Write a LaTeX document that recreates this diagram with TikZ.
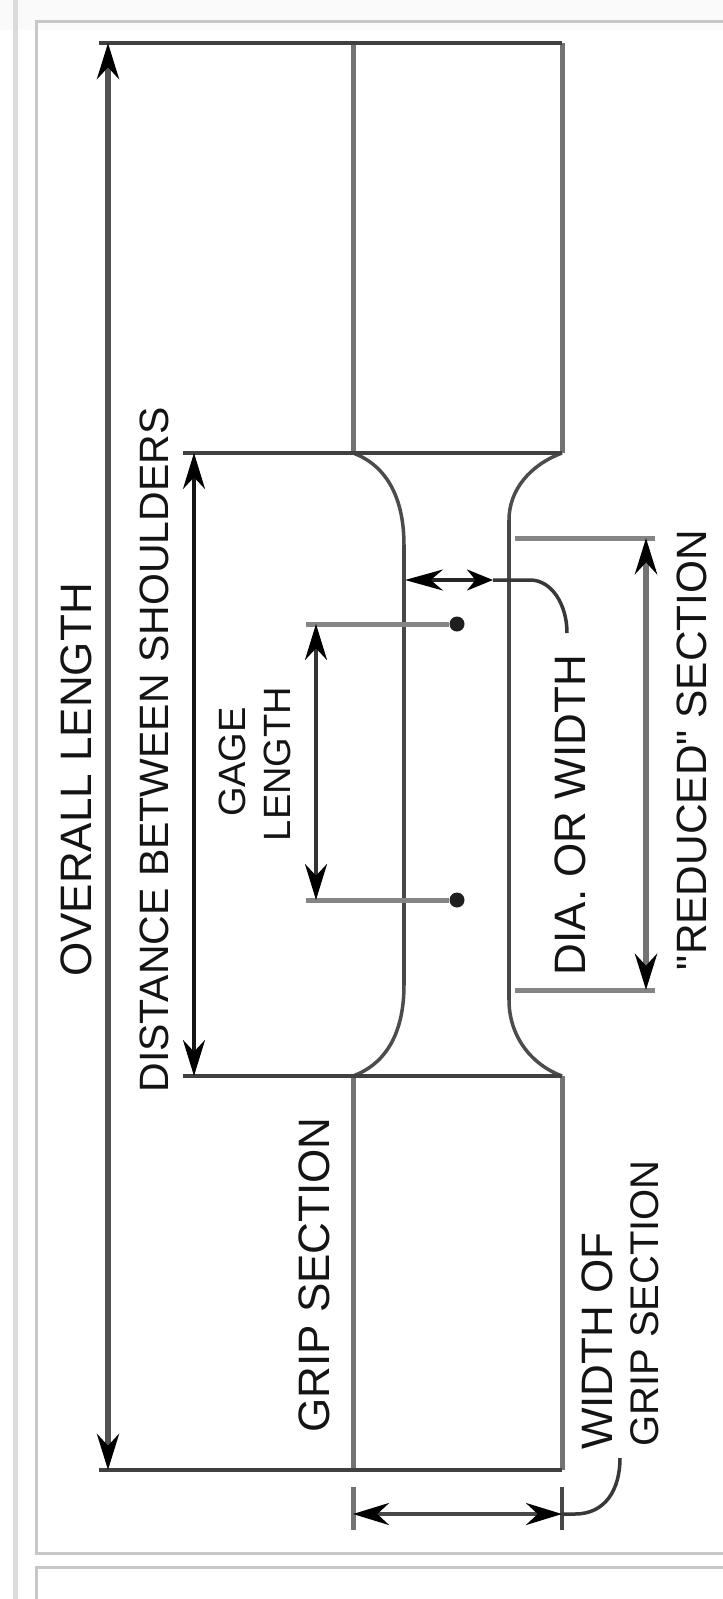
\documentclass[tikz,border=0pt]{standalone}
\usepackage{fontspec}
\setmainfont{Liberation Sans}
\newfontfamily\plainsans{Liberation Sans}
\usetikzlibrary{arrows.meta}
\tikzset{
  framing/.style={draw=black!22!white,line width=3pt},
  outline/.style={draw=black!75,line width=3.5pt},
  sidewall/.style={draw=black!55,line width=5pt},
  neckwall/.style={draw=black!72,line width=3.5pt},
  fillet/.style={draw=black!70,line width=3.5pt},
  softext/.style={draw=black!48,line width=5pt},
  headpair/.style={{Stealth[length=36pt,width=22pt,black]}-{Stealth[length=36pt,width=22pt,black]}},
  dimension/.style={draw=black!72,line width=4pt,headpair},
  softdim/.style={draw=black!55,line width=6pt,headpair},
  leader/.style={draw=black!78,line width=3.5pt},
  label/.style={rotate=90,inner sep=0pt,text=black!92,font=\fontsize{44}{50}\selectfont},
  stacked/.style={label,anchor=west},
  gagedot/.style={circle,fill=black!88,inner sep=0pt,minimum size=15pt},
}
\begin{document}
\begin{tikzpicture}[x=1pt,y=-1pt]
\useasboundingbox (0,0) rectangle (723,1599);
\fill[white] (0,0) rectangle (723,1599);
\fill[black!2] (0,0) rectangle (723,30);
\coordinate (fTL) at (36,21); \coordinate (fTR) at (723,21);
\coordinate (fBL) at (36,1553); \coordinate (fBR) at (723,1553);
\coordinate (gTL) at (36,1567); \coordinate (gTR) at (723,1567);
\coordinate (gBL) at (36,1599);
\draw[line width=5pt,black!14] (15,0) -- (15,1599);
\draw[framing] (fTR) -- (fTL) -- (fBL) -- (fBR);
\draw[framing] (gTR) -- (gTL) -- (gBL);

% specimen
\coordinate (a) at (353,43); \coordinate (b) at (562,43);
\coordinate (c) at (353,453); \coordinate (d) at (562,453);
\coordinate (e) at (353,1076); \coordinate (f) at (562,1076);
\coordinate (g) at (353,1470); \coordinate (h) at (562,1470);
\coordinate (n1) at (404,545); \coordinate (n2) at (509,520);
\coordinate (n3) at (404,985); \coordinate (n4) at (509,1000);
\draw[sidewall] (a) -- (c); \draw[sidewall] (b) -- (d);
\draw[sidewall] (e) -- (g); \draw[sidewall] (f) -- (h);
\draw[neckwall] (n1) -- (n3); \draw[neckwall] (n2) -- (n4);
\draw[fillet] (c) .. controls (388,466) and (404,500) .. (n1);
\draw[fillet] (d) .. controls (530,465) and (509,490) .. (n2);
\draw[fillet] (e) .. controls (388,1063) and (404,1030) .. (n3);
\draw[fillet] (f) .. controls (530,1064) and (509,1035) .. (n4);

% extension lines
\coordinate (ov1) at (108,43); \coordinate (ov2) at (108,1470);
\coordinate (ovx1) at (99,43); \coordinate (ovx2) at (99,1470);
\coordinate (ds1) at (194,453); \coordinate (ds2) at (194,1076);
\coordinate (dsx1) at (183,453); \coordinate (dsx2) at (183,1076);
\draw[outline] (ovx1) -- (a) -- (b);
\draw[outline] (ovx2) -- (g) -- (h);
\draw[outline] (dsx1) -- (c) -- (d);
\draw[outline] (dsx2) -- (e) -- (f);

% gage
\node[gagedot] (dotA) at (457,624) {};
\node[gagedot] (dotB) at (457,900) {};
\coordinate (gg1) at (316,624); \coordinate (gg2) at (316,900);
\coordinate (ggx1) at (306,624); \coordinate (ggx2) at (306,900);
\draw[softext] (ggx1) -- (dotA);
\draw[softext] (ggx2) -- (dotB);
\draw[dimension,draw=black!80] (gg1) -- (gg2);

% reduced section
\coordinate (r1) at (646,538); \coordinate (r2) at (646,990);
\coordinate (r1s) at (515,538); \coordinate (r2s) at (515,990);
\coordinate (r1e) at (655,538); \coordinate (r2e) at (655,990);
\draw[softext] (r1s) -- (r1e);
\draw[softext] (r2s) -- (r2e);
\draw[softdim] (r1) -- (r2);

% main dimensions
\draw[dimension,draw=black!68,line width=5.5pt] (ov1) -- (ov2);
\draw[dimension,draw=black!92,line width=3.5pt] (ds1) -- (ds2);

% dia
\coordinate (dl) at (405,580); \coordinate (dm) at (493,580); \coordinate (dend) at (567,633);
\draw[line width=3.5pt,draw=black!85,{Stealth[length=38pt,width=21pt,black]}-{Stealth[length=26pt,width=21pt,black]}] (dl) -- (dm);
\draw[leader] (dm) -- (530,580) .. controls (552,580) and (567,605) .. (dend);

% width of grip
\coordinate (w1) at (353,1514); \coordinate (w2) at (562,1514); \coordinate (wend) at (620,1458);
\coordinate (t1a) at (353,1487); \coordinate (t1b) at (353,1530);
\coordinate (t2a) at (562,1487); \coordinate (t2b) at (562,1530);
\draw[sidewall] (t1a) -- (t1b);
\draw[neckwall] (t2a) -- (t2b);
\draw[dimension] (w1) -- (w2);
\draw[leader] (w2) -- (575,1514) .. controls (605,1514) and (620,1490) .. (wend);

% labels
\node[label] (overall) at (76,780) {OVERALL LENGTH};
\node[label,font=\fontsize{41}{47}\selectfont] (distance) at (154,750) {DISTANCE BETWEEN SHOULDERS};
\node[label,font=\fontsize{38}{44}\selectfont] (gage) at (232,762) {GAGE};
\node[label,font=\fontsize{38}{44}\selectfont] (length) at (277,764) {LENGTH};
\node[label] (grip) at (314,1275) {GRIP SECTION};
\node[label] (dia) at (570,815) {DIA. OR WIDTH};
\node[label,font=\plainsans\fontsize{42.4}{48}\selectfont] (reduced) at (692,750) {"REDUCED" SECTION};
\node[stacked,font=\fontsize{44}{50}\selectfont] (width) at (597,1450) {WIDTH OF};
\node[stacked,font=\fontsize{40}{46}\selectfont] (gripb) at (645,1447) {GRIP SECTION};
\end{tikzpicture}
\end{document}
